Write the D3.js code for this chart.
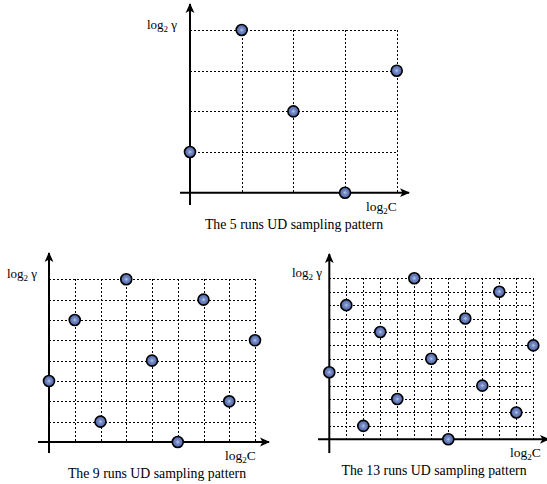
<!DOCTYPE html>
<html>
<head>
<meta charset="utf-8">
<script src="https://cdn.jsdelivr.net/npm/d3@7"></script>
<style>
  html, body { margin: 0; padding: 0; background: #fff; }
  svg { display: block; font-family: "Liberation Serif", "Times New Roman", serif; }
</style>
</head>
<body>
<div id="chart"></div>
<script>
// UD sampling patterns: level index on log2C (x) and log2 gamma (y)
const runs5X = [0, 1, 2, 3, 4];
const runs5Y = [1, 4, 2, 0, 3];
const runs9X = [0, 1, 2, 3, 4, 5, 6, 7, 8];
const runs9Y = [3, 6, 1, 8, 4, 0, 7, 2, 5];
const runs13X = [0, 1, 2, 3, 4, 5, 6, 7, 8, 9, 10, 11, 12];
const runs13Y = [5, 10, 1, 8, 3, 12, 6, 0, 9, 4, 11, 2, 7];
const captions = ["The 5 runs UD sampling pattern", "The 9 runs UD sampling pattern", "The 13 runs UD sampling pattern"];

(function() {
  "use strict";

  const svg = d3.select("#chart").append("svg")
      .attr("width", 547)
      .attr("height", 484);

  const defs = svg.append("defs");

  // arrow head marker
  defs.append("marker")
      .attr("id", "arrow")
      .attr("viewBox", "0 0 10 10")
      .attr("refX", 9).attr("refY", 5)
      .attr("markerWidth", 10).attr("markerHeight", 10)
      .attr("markerUnits", "userSpaceOnUse")
      .attr("orient", "auto")
    .append("path")
      .attr("d", "M0,0.6L10,5L0,9.4L2.5,5Z")
      .attr("fill", "#000");

  const grad = defs.append("radialGradient").attr("id", "dot");
  grad.append("stop").attr("offset", "0%").attr("stop-color", "#8a9fd6");
  grad.append("stop").attr("offset", "100%").attr("stop-color", "#4c63a6");

  // layout of the three panels (pixels)
  const panels = [
    {xs: runs5X, ys: runs5Y, caption: captions[0], x0: 190, x1: 396.7, top: 30, bot: 192.7,
     axTop: 4, axBot: 205, axLeft: 180, axRight: 409, gx: 177, cx: 366, capX: 294},
    {xs: runs9X, ys: runs9Y, caption: captions[1], x0: 49, x1: 255, top: 279.3, bot: 442,
     axTop: 253, axBot: 453, axLeft: 38, axRight: 269, gx: 37, cx: 225, capX: 157},
    {xs: runs13X, ys: runs13Y, caption: captions[2], x0: 329.3, x1: 533.3, top: 278.3, bot: 439.3,
     axTop: 254, axBot: 453, axLeft: 318, axRight: 549, gx: 322, cx: 510, capX: 434}
  ];

  panels.forEach(p => {
    const n = p.xs.length;
    const x = d3.scaleLinear().domain([0, n - 1]).range([p.x0, p.x1]);
    const y = d3.scaleLinear().domain([0, n - 1]).range([p.bot, p.top]);
    const g = svg.append("g");

    // dotted grid
    const grid = g.append("g")
        .attr("stroke", "#000")
        .attr("stroke-width", 1)
        .attr("stroke-dasharray", "2,2")
        .attr("shape-rendering", "crispEdges");
    grid.selectAll(".v").data(d3.range(1, n)).join("line")
        .attr("x1", d => Math.round(x(d)) + 0.5).attr("x2", d => Math.round(x(d)) + 0.5)
        .attr("y1", p.top).attr("y2", p.bot);
    grid.selectAll(".h").data(d3.range(1, n)).join("line")
        .attr("y1", d => Math.round(y(d)) + 0.5).attr("y2", d => Math.round(y(d)) + 0.5)
        .attr("x1", p.x0).attr("x2", p.x1);

    // axes with arrows
    g.append("line")
        .attr("x1", p.x0).attr("x2", p.x0)
        .attr("y1", p.axBot).attr("y2", p.axTop)
        .attr("stroke", "#000").attr("stroke-width", 2)
        .attr("marker-end", "url(#arrow)");
    g.append("line")
        .attr("x1", p.axLeft).attr("x2", p.axRight)
        .attr("y1", p.bot).attr("y2", p.bot)
        .attr("stroke", "#000").attr("stroke-width", 2)
        .attr("marker-end", "url(#arrow)");

    // sample points
    const pt = g.selectAll(".pt").data(p.xs.map((d, i) => [d, p.ys[i]])).join("g")
        .attr("transform", d => `translate(${x(d[0])},${y(d[1])})`);
    pt.append("circle")
        .attr("r", 5.5)
        .attr("fill", "url(#dot)")
        .attr("stroke", "#000")
        .attr("stroke-width", 1.6);
    pt.append("path")
        .attr("d", "M-1.5,0H1.5M0,-1.5V1.5")
        .attr("stroke", "#b8c4e0")
        .attr("stroke-width", 0.7);

    // labels
    const gl = g.append("text")
        .attr("x", p.gx).attr("y", p.top - 1)
        .attr("text-anchor", "end")
        .attr("font-size", 13);
    gl.append("tspan").text("log");
    gl.append("tspan").attr("font-size", 9).attr("dy", 3).text("2");
    gl.append("tspan").attr("dy", -3).text(" \u03b3");

    const cl = g.append("text")
        .attr("x", p.cx).attr("y", p.bot + 18)
        .attr("font-size", 13.5);
    cl.append("tspan").text("log");
    cl.append("tspan").attr("font-size", 9).attr("dy", 3).text("2");
    cl.append("tspan").attr("dy", -3).text("C");

    g.append("text")
        .attr("x", p.capX).attr("y", p.bot + 36)
        .attr("text-anchor", "middle")
        .attr("font-size", 13.8)
        .text(p.caption);
  });
})();
</script>
</body>
</html>
